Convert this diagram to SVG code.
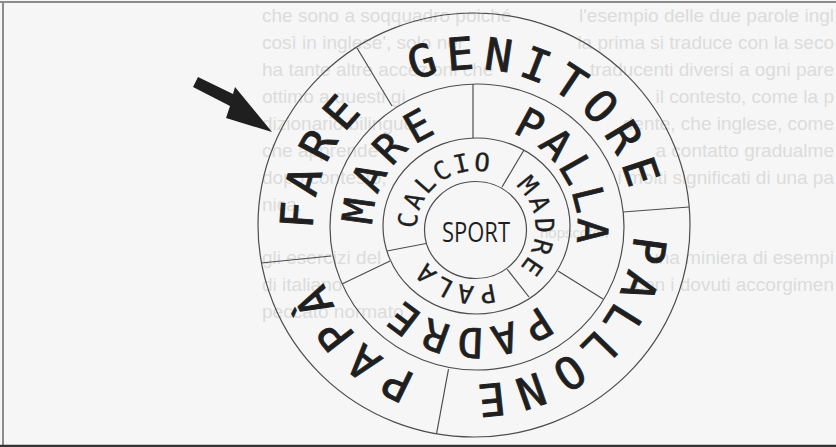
<svg xmlns="http://www.w3.org/2000/svg" width="836" height="447" viewBox="0 0 836 447">
<style>
.bg{font-family:"Liberation Sans",Arial,sans-serif;font-size:19px;fill:#dcdcdc}
.bgr{text-anchor:end}
.ring{fill:none;stroke:#4d4d4d;stroke-width:1.2}
.div{stroke:#4d4d4d;stroke-width:1.2}
.l4,.l3,.l2{font-family:"DejaVu Sans Mono",monospace;fill:#1f1f1f;text-anchor:middle;stroke:#1f1f1f}
.l4{font-size:45px;stroke-width:0.9}
.l3{font-size:42px;stroke-width:0.8}
.l2{font-size:26px;stroke-width:0.3}
.hub{font-family:"Open Sans","DejaVu Sans",sans-serif;font-size:27px;fill:#1f1f1f}
</style>
<rect width="836" height="447" fill="#f6f6f6"/>
<g id="page-text">
<text class="bg" x="262" y="22">che sono a soqquadro poiché</text>
<text class="bg" x="262" y="49">così in inglese', solo nei</text>
<text class="bg" x="262" y="76">ha tante altre accezioni che</text>
<text class="bg" x="262" y="103">ottimo a questi gi</text>
<text class="bg" x="262" y="130">dizionario bilingue,</text>
<text class="bg" x="262" y="157">che apprende</text>
<text class="bg" x="262" y="184">dopo contesto,</text>
<text class="bg" x="262" y="211">nica.</text>
<text class="bg bgr" x="834" y="22">l'esempio delle due parole ingl</text>
<text class="bg bgr" x="834" y="49">la prima si traduce con la seco</text>
<text class="bg bgr" x="834" y="76">traducenti diversi a ogni pare</text>
<text class="bg bgr" x="834" y="103">il contesto, come la p</text>
<text class="bg bgr" x="834" y="130">dente, che inglese, come</text>
<text class="bg bgr" x="834" y="157">a contatto gradualme</text>
<text class="bg bgr" x="834" y="184">i molti significati di una pa</text>
<text class="bg" x="540" y="238" style="font-size:15px">hopscotch</text>
<text class="bg" x="262" y="264">gli esercizi del</text>
<text class="bg" x="262" y="291">di italiano</text>
<text class="bg" x="262" y="318">peccato normato</text>
<text class="bg bgr" x="834" y="264">una miniera di esempi</text>
<text class="bg bgr" x="834" y="291">con i dovuti accorgimen</text>
</g>
<g id="frame">
<line x1="0" y1="2" x2="836" y2="2" stroke="#8c8c8c" stroke-width="2"/>
<line x1="3" y1="2" x2="3" y2="447" stroke="#8c8c8c" stroke-width="2"/>
<line x1="0" y1="446" x2="836" y2="446" stroke="#333" stroke-width="2.5"/>
</g>
<g id="rings">
<ellipse class="ring" cx="475.5" cy="230" rx="51" ry="48.5"/>
<ellipse class="ring" cx="476.5" cy="226" rx="93.5" ry="88"/>
<ellipse class="ring" cx="477" cy="227" rx="147" ry="143"/>
<ellipse class="ring" cx="474" cy="225" rx="216" ry="212"/>
</g>
<g id="connectors">
<line class="div" x1="392" y1="106" x2="357" y2="48"/>
<line class="div" x1="623" y1="212" x2="689" y2="207"/>
<line class="div" x1="448.5" y1="369" x2="436.5" y2="434"/>
<line class="div" x1="331" y1="256" x2="261" y2="263"/>
<line class="div" x1="473" y1="84" x2="473" y2="138"/>
<line class="div" x1="558" y1="271" x2="603" y2="299"/>
<line class="div" x1="390" y1="261" x2="342" y2="284"/>
<line class="div" x1="502" y1="187" x2="524" y2="150"/>
<line class="div" x1="507" y1="269" x2="529" y2="297"/>
<line class="div" x1="426" y1="243.5" x2="387" y2="251"/>
</g>
<g id="arrow">
<polygon points="198,77 233,94 235,87 272,132 226,118 230,106 193,87" fill="#1f1f1f"/>
</g>
<g id="hub">
<text class="hub" x="476" y="242" text-anchor="middle" textLength="68" lengthAdjust="spacingAndGlyphs">SPORT</text>
</g>
<g id="ring2" transform="translate(476,228.4) scale(1,0.967)">
<g id="w-calcio">
<text class="l2" transform="rotate(-82.8)" y="-59.5">C</text>
<text class="l2" transform="rotate(-65.2)" y="-59.5">A</text>
<text class="l2" transform="rotate(-47.6)" y="-59.5">L</text>
<text class="l2" transform="rotate(-30)" y="-59.5">C</text>
<text class="l2" transform="rotate(-12.4)" y="-59.5">I</text>
<text class="l2" transform="rotate(5.2)" y="-59.5">O</text>
</g>
<g id="w-madre">
<text class="l2" transform="rotate(49.4)" y="-59.5">M</text>
<text class="l2" transform="rotate(68.3)" y="-59.5">A</text>
<text class="l2" transform="rotate(87.3)" y="-59.5">D</text>
<text class="l2" transform="rotate(106.2)" y="-59.5">R</text>
<text class="l2" transform="rotate(125.1)" y="-59.5">E</text>
</g>
<g id="w-pala">
<text class="l2" transform="rotate(170)" y="-59.5">P</text>
<text class="l2" transform="rotate(189)" y="-59.5">A</text>
<text class="l2" transform="rotate(208)" y="-59.5">L</text>
<text class="l2" transform="rotate(227)" y="-59.5">A</text>
</g>
</g>
<g id="ring3" transform="translate(475,227) scale(1,0.983)">
<g id="w-mare">
<text class="l3" transform="rotate(-82)" y="-102.7">M</text>
<text class="l3" transform="rotate(-64.3)" y="-102.7">A</text>
<text class="l3" transform="rotate(-46.7)" y="-102.7">R</text>
<text class="l3" transform="rotate(-29)" y="-102.7">E</text>
</g>
<g id="w-palla">
<text class="l3" transform="rotate(28)" y="-102.7">P</text>
<text class="l3" transform="rotate(44)" y="-102.7">A</text>
<text class="l3" transform="rotate(60)" y="-102.7">L</text>
<text class="l3" transform="rotate(76)" y="-102.7">L</text>
<text class="l3" transform="rotate(92)" y="-102.7">A</text>
</g>
<g id="w-padre">
<text class="l3" transform="rotate(147.8)" y="-102.7">P</text>
<text class="l3" transform="rotate(165.1)" y="-102.7">A</text>
<text class="l3" transform="rotate(182.4)" y="-102.7">D</text>
<text class="l3" transform="rotate(199.7)" y="-102.7">R</text>
<text class="l3" transform="rotate(217)" y="-102.7">E</text>
</g>
</g>
<g id="ring4" transform="translate(473.5,227) scale(1,0.983)">
<g id="w-fare">
<text class="l4" transform="rotate(-86)" y="-160.6">F</text>
<text class="l4" transform="rotate(-74.5)" y="-160.6">A</text>
<text class="l4" transform="rotate(-61.7)" y="-160.6">R</text>
<text class="l4" transform="rotate(-48.7)" y="-160.6">E</text>
</g>
<g id="w-genitore">
<text class="l4" transform="rotate(-17)" y="-160.6">G</text>
<text class="l4" transform="rotate(-4.4)" y="-160.6">E</text>
<text class="l4" transform="rotate(8.2)" y="-160.6">N</text>
<text class="l4" transform="rotate(20.8)" y="-160.6">I</text>
<text class="l4" transform="rotate(33.4)" y="-160.6">T</text>
<text class="l4" transform="rotate(46)" y="-160.6">O</text>
<text class="l4" transform="rotate(58.6)" y="-160.6">R</text>
<text class="l4" transform="rotate(71.3)" y="-160.6">E</text>
</g>
<g id="w-pallone">
<text class="l4" transform="rotate(97.8)" y="-160.6">P</text>
<text class="l4" transform="rotate(110)" y="-160.6">A</text>
<text class="l4" transform="rotate(122.5)" y="-160.6">L</text>
<text class="l4" transform="rotate(134.5)" y="-160.6">L</text>
<text class="l4" transform="rotate(147)" y="-160.6">O</text>
<text class="l4" transform="rotate(161)" y="-160.6">N</text>
<text class="l4" transform="rotate(174)" y="-160.6">E</text>
</g>
<g id="w-papa">
<text class="l4" transform="rotate(205.5)" y="-160.6">P</text>
<text class="l4" transform="rotate(218.5)" y="-160.6">A</text>
<text class="l4" transform="rotate(231.5)" y="-160.6">P</text>
<text class="l4" transform="rotate(244.5)" y="-160.6">À</text>
</g>
</g>
</svg>
